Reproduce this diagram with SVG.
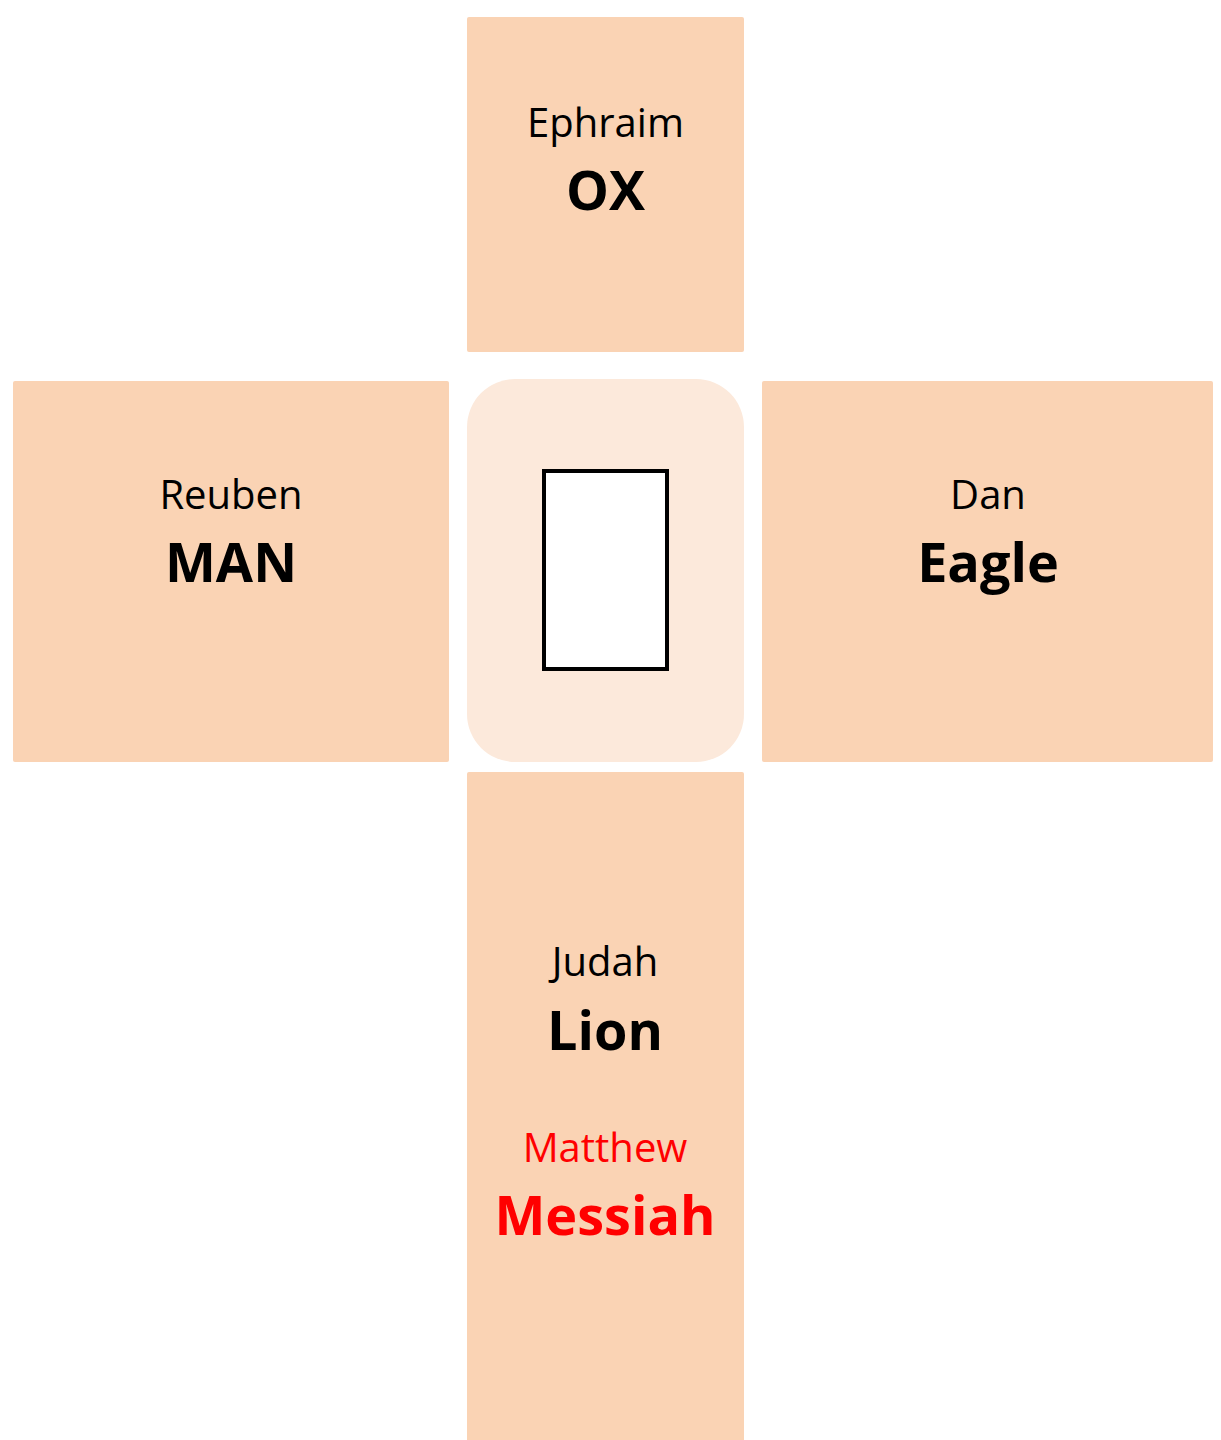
<svg xmlns="http://www.w3.org/2000/svg" width="1221" height="1440" viewBox="0 0 1221 1440">
<style>
.box{fill:#FAD3B4}
.center{fill:#FCE9DB}
text{font-family:"Open Sans","Noto Sans","Liberation Sans",sans-serif;text-anchor:middle;fill:#000}
.n{font-size:40px}
.b{font-size:54px;font-weight:bold}
.red{fill:#FF0000}
</style>
<rect width="1221" height="1440" fill="#fff"/>
<g id="top">
<rect class="box" x="467" y="17" width="277" height="335" rx="2"/>
<text class="n" x="605.5" y="137">Ephraim</text>
<text class="b" x="605.5" y="210">OX</text>
</g>
<g id="center">
<rect class="center" x="467" y="379" width="277" height="383" rx="48"/>
<rect x="544" y="471" width="123" height="198" fill="#fff" stroke="#000" stroke-width="4"/>
</g>
<g id="left">
<rect class="box" x="13" y="381" width="436" height="381" rx="2"/>
<text class="n" x="231" y="509">Reuben</text>
<text class="b" x="231" y="582">MAN</text>
</g>
<g id="right">
<rect class="box" x="762" y="381" width="451" height="381" rx="2"/>
<text class="n" x="988" y="509">Dan</text>
<text class="b" x="988" y="582">Eagle</text>
</g>
<g id="bottom">
<rect class="box" x="467" y="772" width="277" height="680" rx="2"/>
<text class="n" x="605" y="976">Judah</text>
<text class="b" x="605" y="1050">Lion</text>
<text class="n red" x="605" y="1162">Matthew</text>
<text class="b red" x="605" y="1235">Messiah</text>
</g>
<g id="connectors"></g>
</svg>
